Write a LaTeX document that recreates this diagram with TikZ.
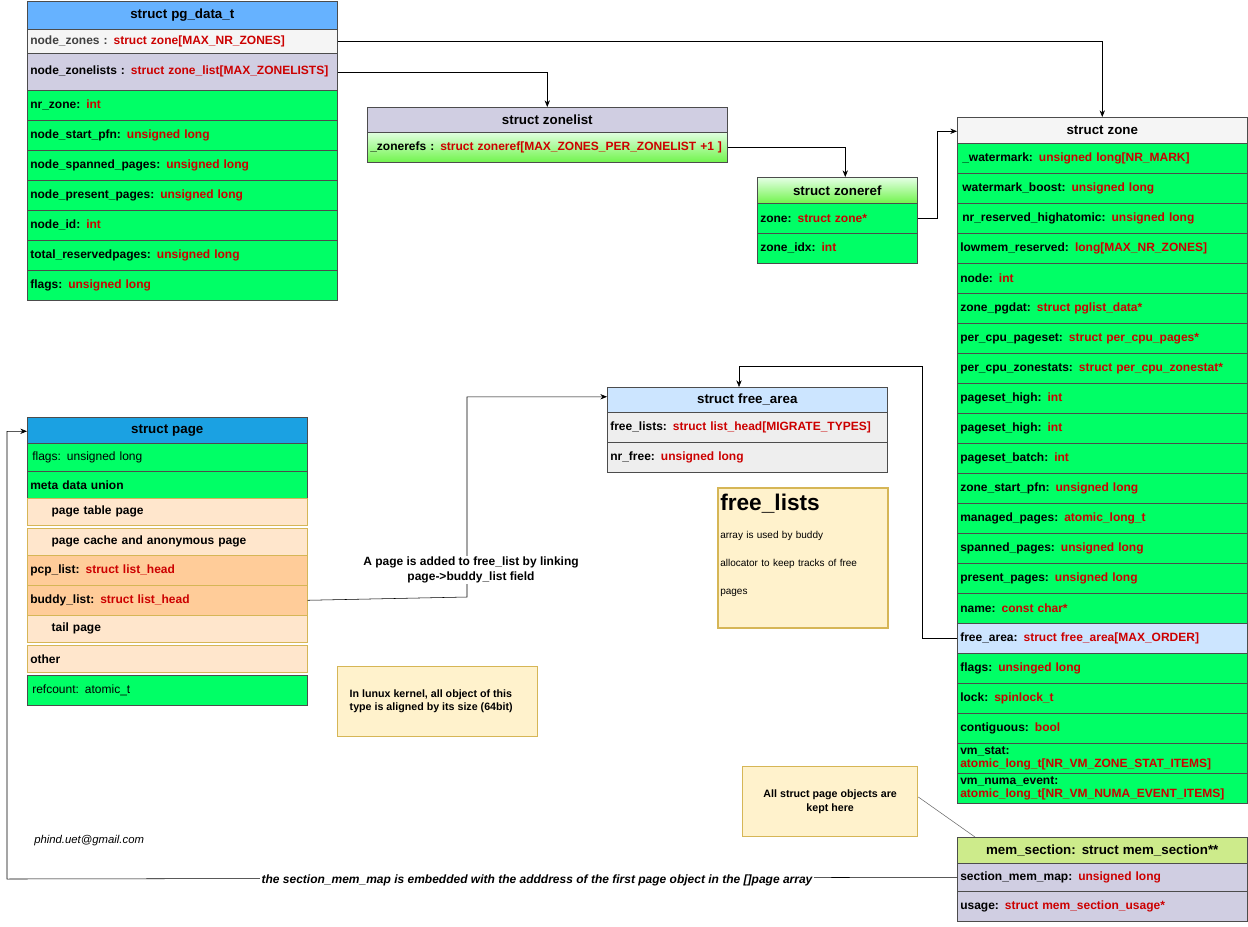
\documentclass[tikz,border=0pt]{standalone}
\usepackage{fontspec}
\setmainfont{Liberation Sans}
\usetikzlibrary{arrows.meta,calc}
\definecolor{tred}{HTML}{CC0000}
\definecolor{gr}{HTML}{00FF66}
\definecolor{lav}{HTML}{D0CEE2}
\definecolor{lgray}{HTML}{F5F5F5}
\definecolor{eg}{HTML}{EEEEEE}
\definecolor{lblue}{HTML}{CCE5FF}
\definecolor{hblue}{HTML}{66B2FF}
\definecolor{pblue}{HTML}{1BA1E2}
\definecolor{peach}{HTML}{FFE6CC}
\definecolor{orng}{HTML}{FFCC99}
\definecolor{notef}{HTML}{FFF2CC}
\definecolor{noted}{HTML}{D6B656}
\definecolor{lime}{HTML}{CDEB8B}
\newcommand\T[1]{\textcolor{tred}{#1}}
\newcommand\rw[7]{\pgfmathsetlengthmacro\rww{(#4-6)*0.75pt}\pgfmathsetlengthmacro\rwh{#5*0.75pt}%
 \node[row,fill=#6,text width=\rww,minimum height=\rwh] (#1) at (#2,#3) {#7};}
\newcommand\hd[7]{\pgfmathsetlengthmacro\rww{(#4-6)*0.75pt}\pgfmathsetlengthmacro\rwh{#5*0.75pt}%
 \node[row,align=center,fill=#6,text width=\rww,minimum height=\rwh] (#1) at (#2,#3) {#7};}
\tikzset{
 row/.style={draw=black!70,rectangle,anchor=north west,inner xsep=2.25pt,inner ysep=0pt,align=left,font=\fontsize{9}{10}\selectfont\bfseries},
 arr/.style={draw=black,-{Stealth[length=5pt,width=4pt]}},
 note/.style={draw=noted,fill=notef,rectangle,anchor=north west,inner sep=0pt}
}
\begin{document}
\begin{tikzpicture}[x=0.75pt,y=-0.75pt]
\useasboundingbox (0,0) rectangle (1248,926);
% pg_data_t
\hd{pgh}{27}{1}{310}{28}{hblue}{\fontsize{10}{12}\selectfont struct pg\_data\_t}
\rw{nzones}{27}{29}{310}{24}{lgray}{\textcolor{black!75}{node\_zones :} \T{struct zone[MAX\_NR\_ZONES]}}
\rw{nzl}{27}{53}{310}{37}{lav}{node\_zonelists : \T{struct zone\_list[MAX\_ZONELISTS]}}
\rw{p1}{27}{90}{310}{30}{gr}{nr\_zone: \T{int}}
\rw{p2}{27}{120}{310}{30}{gr}{node\_start\_pfn: \T{unsigned long}}
\rw{p3}{27}{150}{310}{30}{gr}{node\_spanned\_pages: \T{unsigned long}}
\rw{p4}{27}{180}{310}{30}{gr}{node\_present\_pages: \T{unsigned long}}
\rw{p5}{27}{210}{310}{30}{gr}{node\_id: \T{int}}
\rw{p6}{27}{240}{310}{30}{gr}{total\_reservedpages: \T{unsigned long}}
\rw{p7}{27}{270}{310}{30}{gr}{flags: \T{unsigned long}}
% zonelist
\hd{zlh}{367}{107}{360}{25}{lav}{\fontsize{10}{12}\selectfont struct zonelist}
\node[row,top color=green!12!white,bottom color=green!45!lime,text width=354*0.75pt,minimum height=30*0.75pt] (zrefs) at (367,132) {\_zonerefs : \T{struct zoneref[MAX\_ZONES\_PER\_ZONELIST +1 ]}};
% zoneref
\node[row,align=center,top color=green!10!white,bottom color=green!45!lime,text width=154*0.75pt,minimum height=26*0.75pt] (zref) at (757,177) {\fontsize{10}{12}\selectfont struct zoneref};
\rw{zzone}{757}{203}{160}{30}{gr}{zone: \T{struct zone*}}
\rw{zidx}{757}{233}{160}{30}{gr}{zone\_idx: \T{int}}
% struct zone
\hd{zhead}{957}{117}{290}{26}{lgray}{\fontsize{10}{12}\selectfont struct zone}
\rw{z1}{957}{143}{290}{30}{gr}{\,\_watermark: \T{unsigned long[NR\_MARK]}}
\rw{z2}{957}{173}{290}{30}{gr}{\,watermark\_boost: \T{unsigned long}}
\rw{z3}{957}{203}{290}{30}{gr}{\,nr\_reserved\_highatomic: \T{unsigned long}}
\rw{z4}{957}{233}{290}{30}{gr}{lowmem\_reserved: \T{long[MAX\_NR\_ZONES]}}
\rw{z5}{957}{263}{290}{30}{gr}{node: \T{int}}
\rw{z6}{957}{293}{290}{30}{gr}{zone\_pgdat: \T{struct pglist\_data*}}
\rw{z7}{957}{323}{290}{30}{gr}{per\_cpu\_pageset: \T{struct per\_cpu\_pages*}}
\rw{z8}{957}{353}{290}{30}{gr}{per\_cpu\_zonestats: \T{struct per\_cpu\_zonestat*}}
\rw{z9}{957}{383}{290}{30}{gr}{pageset\_high: \T{int}}
\rw{z10}{957}{413}{290}{30}{gr}{pageset\_high: \T{int}}
\rw{z11}{957}{443}{290}{30}{gr}{pageset\_batch: \T{int}}
\rw{z12}{957}{473}{290}{30}{gr}{zone\_start\_pfn: \T{unsigned long}}
\rw{z13}{957}{503}{290}{30}{gr}{managed\_pages: \T{atomic\_long\_t}}
\rw{z14}{957}{533}{290}{30}{gr}{spanned\_pages: \T{unsigned long}}
\rw{z15}{957}{563}{290}{30}{gr}{present\_pages: \T{unsigned long}}
\rw{z16}{957}{593}{290}{30}{gr}{name: \T{const char*}}
\rw{zfa}{957}{623}{290}{30}{lblue}{free\_area: \T{struct free\_area[MAX\_ORDER]}}
\rw{z18}{957}{653}{290}{30}{gr}{flags: \T{unsinged long}}
\rw{z19}{957}{683}{290}{30}{gr}{lock: \T{spinlock\_t}}
\rw{z20}{957}{713}{290}{30}{gr}{contiguous: \T{bool}}
\rw{z21}{957}{743}{290}{30}{gr}{vm\_stat:\\\T{atomic\_long\_t[NR\_VM\_ZONE\_STAT\_ITEMS]}}
\rw{z22}{957}{773}{290}{30}{gr}{vm\_numa\_event:\\\T{atomic\_long\_t[NR\_VM\_NUMA\_EVENT\_ITEMS]}}
% free_area
\hd{fa}{607}{387}{280}{25}{lblue}{\fontsize{10}{12}\selectfont struct free\_area}
\rw{fl}{607}{412}{280}{30}{eg}{free\_lists: \T{struct list\_head[MIGRATE\_TYPES]}}
\rw{nf}{607}{442}{280}{30}{eg}{nr\_free: \T{unsigned long}}
\node[note,line width=1.5pt,minimum width=170*0.75pt,minimum height=140*0.75pt] (fln) at (717,487) {};
\node[anchor=north west,inner sep=0pt,align=left,text width=160*0.75pt,font=\fontsize{7.5}{21}\selectfont] at (720,494) {{\fontsize{17}{21}\selectfont\bfseries free\_lists}\\array is used by buddy\\allocator to keep tracks of free\\pages};
% struct page
\hd{pgh2}{27}{417}{280}{26}{pblue}{\fontsize{10}{12}\selectfont struct page}
\rw{pf}{27}{443}{280}{28}{gr}{\mdseries\,flags: unsigned long}
\rw{pm}{27}{471}{280}{27}{gr}{meta data union}
\tikzset{row/.append style={draw=noted}}
\rw{ptp}{27}{498}{280}{27}{peach}{\hspace{16pt}page table page}
\rw{pcp}{27}{528}{280}{27}{peach}{\hspace{16pt}page cache and anonymous page}
\rw{pcpl}{27}{555}{280}{30}{orng}{pcp\_list: \T{struct list\_head}}
\rw{bud}{27}{585}{280}{30}{orng}{buddy\_list: \T{struct list\_head}}
\rw{tail}{27}{615}{280}{27}{peach}{\hspace{16pt}tail page}
\rw{oth}{27}{645}{280}{27}{peach}{other}
\tikzset{row/.append style={draw=black!70}}
\rw{ref}{27}{675}{280}{30}{gr}{\mdseries\,refcount: atomic\_t}
% notes
\node[note,minimum width=200*0.75pt,minimum height=70*0.75pt,align=left,font=\fontsize{8}{10}\selectfont\bfseries,text width=180*0.75pt] (n1) at (337,666) {\vphantom{}};
\node[anchor=west,align=left,font=\fontsize{8}{10}\selectfont\bfseries] at (345,701) {In lunux kernel, all object of this\\type is aligned by its size (64bit)};
\node[note,line width=1pt,minimum width=175*0.75pt,minimum height=70*0.75pt,align=center,font=\fontsize{8}{10}\selectfont\bfseries] (n2) at (742,766) {};
\node[align=center,font=\fontsize{8}{10}\selectfont\bfseries] at (n2.center) {All struct page objects are\\kept here};
\node[font=\fontsize{8.5}{10}\selectfont\itshape,anchor=west,inner sep=0pt] (mail) at (34,841) {phind.uet@gmail.com};
% mem_section
\hd{msh}{957}{837}{290}{26}{lime}{\fontsize{10}{12}\selectfont mem\_section: struct mem\_section**}
\rw{smm}{957}{863}{290}{28}{lav}{section\_mem\_map: \T{unsigned long}}
\rw{use}{957}{891}{290}{30}{lav}{usage: \T{struct mem\_section\_usage*}}
% connectors
\draw[arr] (nzones.east) -| (zhead.north);
\draw[arr] (nzl.east) -| (zlh.north);
\draw[arr] (zrefs.east) -| ($(zref.north)+(8,0)$);
\draw[arr] (zzone.east) -- ++(20,0) |- ($(zhead.west)+(0,1)$);
\coordinate (faT) at (739,366);
\draw[arr] (zfa.west) -- ++(-35,0) |- (faT) -- (fa.north -| faT);
\draw[arr] (bud.east) -- (467,597) |- ($(fa.west)+(0,-3)$);
\node[font=\fontsize{9}{11}\selectfont\bfseries,fill=white,inner sep=1pt,align=center] at (471,570) {A page is added to free\_list by linking\\page->buddy\_list field};
\draw[arr] (smm.west) -- (7,879) |- ($(pgh2.west)+(0,1)$);
\node[font=\fontsize{9}{11}\selectfont\bfseries\itshape,fill=white,inner sep=1pt] at (537,880) {the section\_mem\_map is embedded with the adddress of the first page object in the []page array};
\draw[black!60] (n2.east |- 0,797) -- (975,837);
\end{tikzpicture}
\end{document}
